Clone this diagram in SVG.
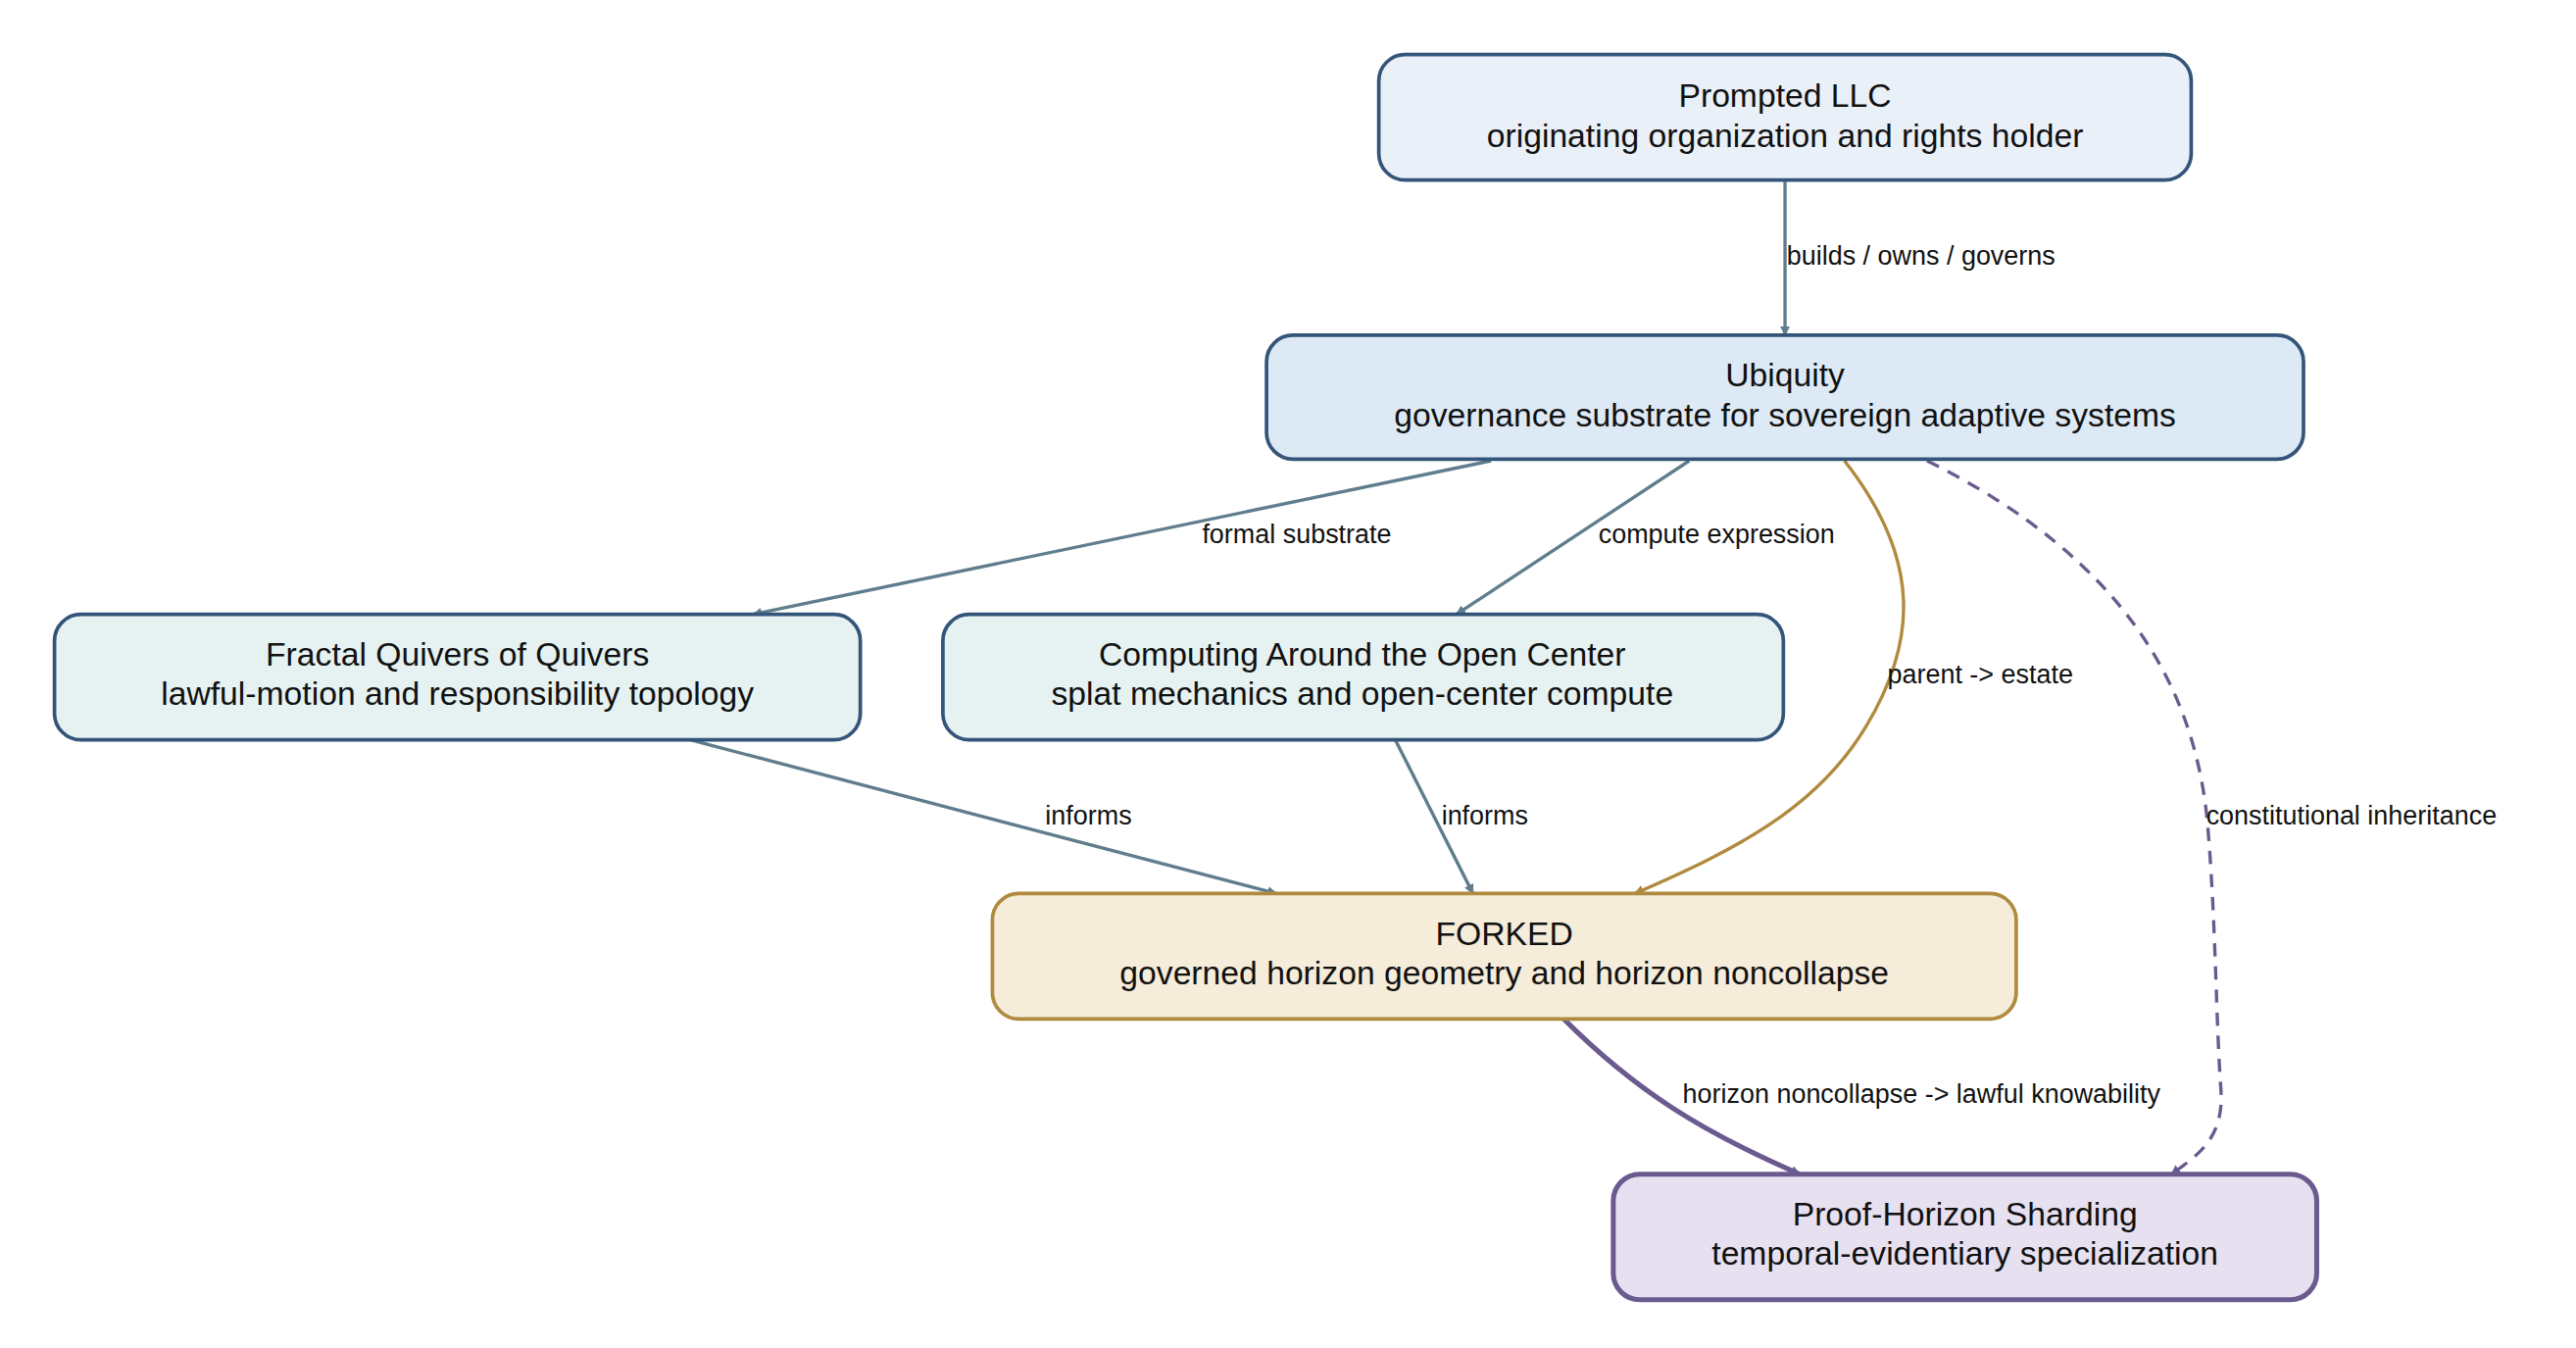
<svg xmlns="http://www.w3.org/2000/svg" width="2628" height="1375" viewBox="0 0 2628 1375">
<style>
.n text{font-family:"Liberation Sans",Arial,sans-serif;font-size:20px;fill:#111;text-anchor:middle}
.l{font-family:"Liberation Sans",Arial,sans-serif;font-size:16px;fill:#111}
.b{stroke:#34557a;stroke-width:2.2}
.e{fill:none;stroke:#5f7d8c;stroke-width:2}
</style>
<defs>
<marker id="ab" viewBox="0 0 10 10" refX="9" refY="5" markerWidth="6" markerHeight="6" markerUnits="userSpaceOnUse" orient="auto"><path d="M0,0L10,5L0,10z" fill="#5f7d8c"/></marker>
<marker id="ag" viewBox="0 0 10 10" refX="9" refY="5" markerWidth="6" markerHeight="6" markerUnits="userSpaceOnUse" orient="auto"><path d="M0,0L10,5L0,10z" fill="#b08a3e"/></marker>
<marker id="ap" viewBox="0 0 10 10" refX="9" refY="5" markerWidth="6" markerHeight="6" markerUnits="userSpaceOnUse" orient="auto"><path d="M0,0L10,5L0,10z" fill="#6b5a8e"/></marker>
</defs>
<rect width="2628" height="1375" fill="#fff"/>
<g transform="scale(1.6846)">
<g id="edges">
<path class="e" d="M1081,109L1081,203" marker-end="url(#ab)"/>
<text class="l" x="1082" y="160">builds / owns / governs</text>
<path class="e" d="M903,279L456,372" marker-end="url(#ab)"/>
<text class="l" x="728" y="329">formal substrate</text>
<path class="e" d="M1023,279L882,372" marker-end="url(#ab)"/>
<text class="l" x="968" y="329">compute expression</text>
<path d="M1117,279C1165,340 1160,390 1130,440C1100,490 1050,515 990,541" fill="none" stroke="#b08a3e" stroke-width="2" marker-end="url(#ag)"/>
<text class="l" x="1143" y="414">parent -&gt; estate</text>
<path d="M1167,279C1290,340 1330,420 1337,500C1342,560 1342,620 1345,660C1347,690 1330,700 1315,711" fill="none" stroke="#6b5a8e" stroke-width="2" stroke-dasharray="8,6" marker-end="url(#ap)"/>
<text class="l" x="1336" y="499">constitutional inheritance</text>
<path class="e" d="M418,448L773,541" marker-end="url(#ab)"/>
<text class="l" x="633" y="499">informs</text>
<path class="e" d="M845,448L892,541" marker-end="url(#ab)"/>
<text class="l" x="873" y="499">informs</text>
<path d="M947,617C990,660 1030,685 1090,711" fill="none" stroke="#6b5a8e" stroke-width="3" marker-end="url(#ap)"/>
<text class="l" x="1019" y="668">horizon noncollapse -&gt; lawful knowability</text>
</g>
<g id="prompted" class="n"><rect class="b" x="835" y="33" width="492" height="76" rx="16" fill="#eaf0f8"/><text x="1081" y="65">Prompted LLC</text><text x="1081" y="89">originating organization and rights holder</text></g>
<g id="ubiquity" class="n"><rect class="b" x="767" y="203" width="628" height="75" rx="16" fill="#ddeaf6"/><text x="1081" y="234">Ubiquity</text><text x="1081" y="258">governance substrate for sovereign adaptive systems</text></g>
<g id="fractal" class="n"><rect class="b" x="33" y="372" width="488" height="76" rx="16" fill="#e6f2f2"/><text x="277" y="403">Fractal Quivers of Quivers</text><text x="277" y="427">lawful-motion and responsibility topology</text></g>
<g id="computing" class="n"><rect class="b" x="571" y="372" width="509" height="76" rx="16" fill="#e6f2f2"/><text x="825" y="403">Computing Around the Open Center</text><text x="825" y="427">splat mechanics and open-center compute</text></g>
<g id="forked" class="n"><rect x="601" y="541" width="620" height="76" rx="16" fill="#f5ecda" stroke="#b08a3e" stroke-width="2.2"/><text x="911" y="572">FORKED</text><text x="911" y="596">governed horizon geometry and horizon noncollapse</text></g>
<g id="proof" class="n"><rect x="977" y="711" width="426" height="76" rx="16" fill="#e7e0f0" stroke="#6b5a8e" stroke-width="3"/><text x="1190" y="742">Proof-Horizon Sharding</text><text x="1190" y="766">temporal-evidentiary specialization</text></g>
</g>
</svg>
